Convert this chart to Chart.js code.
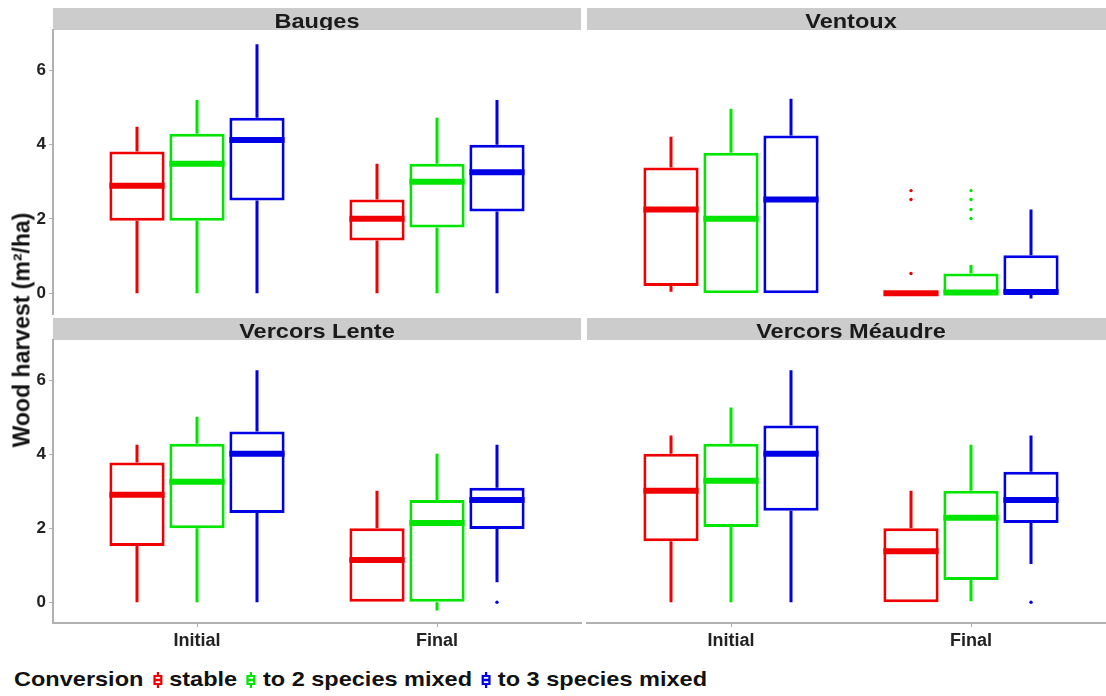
<!DOCTYPE html>
<html>
<head>
<meta charset="utf-8">
<script src="https://cdn.jsdelivr.net/npm/chart.js@4.4.1/dist/chart.umd.min.js"></script>
<style>
  html, body { margin: 0; padding: 0; background: #fff; }
  #page { position: relative; width: 1106px; height: 696px; overflow: hidden; background: #fff;
          font-family: "Liberation Sans", Arial, sans-serif; }
  .panel { position: absolute; }
  #ytitle { position: absolute; left: 22px; top: 330px; transform: translate(-50%, -50%) rotate(-90deg);
            font-weight: bold; font-size: 23px; white-space: nowrap; color: #111; }
  #legend { position: absolute; left: 14px; top: 665px; height: 28px; font-weight: bold; font-size: 21px;
            color: #111; display: flex; align-items: center; white-space: nowrap;
            transform: scaleX(1.12); transform-origin: 0 50%; }
  #legend .key { display: inline-block; margin: 0 6px 0 8px; height: 18px; }
</style>
</head>
<body>
<div id="page">
  <canvas class="panel" id="p0" width="582" height="330" style="left:0;top:0"></canvas>
  <canvas class="panel" id="p1" width="540" height="330" style="left:582px;top:0"></canvas>
  <canvas class="panel" id="p2" width="582" height="340" style="left:0;top:316px"></canvas>
  <canvas class="panel" id="p3" width="540" height="340" style="left:582px;top:316px"></canvas>
  <div id="ytitle">Wood harvest (m²/ha)</div>
  <div id="legend"></div>
</div>
<script>
// ---- data ----
const categories = ['Initial', 'Final'];
const seriesNames = ['stable', 'to 2 species mixed', 'to 3 species mixed'];
const seriesColors = ['#f00000', '#00e600', '#0000e6'];
const sites = ['Bauges', 'Ventoux', 'Vercors Lente', 'Vercors Méaudre'];
const yTicks = [0, 2, 4, 6];
const legendTitle = 'Conversion';

// five-number summaries per period: [lower whisker, Q1, median, Q3, upper whisker]
const baugesStable  = [[0, 1.95, 2.89, 3.81, 4.48], [0, 1.42, 2.00, 2.52, 3.48]];
const baugesMixed2  = [[0, 1.95, 3.48, 4.29, 5.20], [0, 1.77, 3.00, 3.48, 4.72]];
const baugesMixed3  = [[0, 2.49, 4.12, 4.72, 6.70], [0, 2.20, 3.25, 3.99, 5.20]];
const ventouxStable = [[0.04, 0.19, 2.25, 3.38, 4.21], [0, 0, 0, 0, 0]];
const ventouxMixed2 = [[0, 0, 2.00, 3.78, 4.96], [0, 0, 0.02, 0.53, 0.76]];
const ventouxMixed3 = [[0, 0, 2.52, 4.24, 5.23], [-0.14, 0, 0.03, 1.02, 2.25]];
const lenteStable   = [[0, 1.52, 2.90, 3.77, 4.25], [0, 0, 1.14, 2.00, 3.01]];
const lenteMixed2   = [[0, 2.00, 3.25, 4.28, 5.01], [-0.22, 0, 2.14, 2.76, 4.01]];
const lenteMixed3   = [[0, 2.41, 4.01, 4.61, 6.26], [0.54, 1.98, 2.76, 3.09, 4.25]];
const meaudreStable = [[0, 1.65, 3.01, 4.01, 4.50], [0, 0, 1.38, 2.00, 3.01]];
const meaudreMixed2 = [[0, 2.03, 3.28, 4.28, 5.26], [0.03, 0.60, 2.28, 3.01, 4.25]];
const meaudreMixed3 = [[0, 2.47, 4.01, 4.77, 6.26], [1.03, 2.14, 2.76, 3.52, 4.50]];

// outlying values per period
const noOutliers        = [[], []];
const ventouxStableOut  = [[], [0.53, 2.52, 2.76]];
const ventouxMixed2Out  = [[], [2.01, 2.25, 2.52, 2.76]];
const lenteMixed3Out    = [[], [0]];
const meaudreMixed3Out  = [[], [0]];

const siteStats = [
  [baugesStable, baugesMixed2, baugesMixed3],
  [ventouxStable, ventouxMixed2, ventouxMixed3],
  [lenteStable, lenteMixed2, lenteMixed3],
  [meaudreStable, meaudreMixed2, meaudreMixed3]
];
const siteOutliers = [
  [noOutliers, noOutliers, noOutliers],
  [ventouxStableOut, ventouxMixed2Out, noOutliers],
  [noOutliers, noOutliers, lenteMixed3Out],
  [noOutliers, noOutliers, meaudreMixed3Out]
];

const FONT = '"Liberation Sans", Arial, sans-serif';
const AXIS_GREY = '#b0b0b0';

// grey facet strip above each panel
const stripPlugin = {
  id: 'strip',
  beforeDraw(chart, args, opts) {
    const { ctx, chartArea } = chart;
    const h = 22, top = chartArea.top - h;
    ctx.save();
    ctx.fillStyle = '#cccccc';
    ctx.fillRect(chartArea.left, top, chartArea.right - chartArea.left, h);
    ctx.beginPath();
    ctx.rect(chartArea.left, top, chartArea.right - chartArea.left, h);
    ctx.clip();
    ctx.fillStyle = '#1a1a1a';
    ctx.font = 'bold 21px ' + FONT;
    ctx.textAlign = 'center';
    ctx.textBaseline = 'alphabetic';
    ctx.translate((chartArea.left + chartArea.right) / 2, top + 19.5);
    ctx.scale(1.12, 1);
    ctx.fillText(opts.text, 0, 0);
    ctx.restore();
  }
};

// whiskers, medians and outliers on top of the box bars
const boxPlugin = {
  id: 'boxDetails',
  afterDatasetsDraw(chart) {
    const ctx = chart.ctx, ys = chart.scales.y;
    const py = v => ys.getPixelForValue(v);
    chart.data.datasets.forEach((ds, di) => {
      const meta = chart.getDatasetMeta(di);
      ds.stats.forEach((st, i) => {
        const bar = meta.data[i];
        const cx = bar.x, half = bar.width / 2;
        const [lo, q1, med, q3, hi] = st;
        ctx.save();
        ctx.strokeStyle = ds.borderColor;
        ctx.lineCap = 'butt';
        ctx.lineWidth = 3;
        ctx.beginPath();
        if (hi > q3) { ctx.moveTo(cx, py(q3)); ctx.lineTo(cx, py(hi)); }
        if (lo < q1) { ctx.moveTo(cx, py(q1)); ctx.lineTo(cx, py(lo)); }
        ctx.stroke();
        ctx.lineWidth = 6;
        ctx.beginPath();
        ctx.moveTo(cx - half, py(med));
        ctx.lineTo(cx + half, py(med));
        ctx.stroke();
        ctx.fillStyle = ds.borderColor;
        ds.outliers[i].forEach(v => {
          ctx.beginPath();
          ctx.arc(cx, py(v), 1.7, 0, Math.PI * 2);
          ctx.fill();
        });
        ctx.restore();
      });
    });
  }
};

function makePanel(id, siteIndex, showY, showX, padding) {
  const datasets = seriesNames.map((name, k) => ({
    label: name,
    data: categories.map((c, i) => ({ x: i + 1, y: [siteStats[siteIndex][k][i][1], siteStats[siteIndex][k][i][3]] })),
    stats: siteStats[siteIndex][k],
    outliers: siteOutliers[siteIndex][k],
    backgroundColor: '#ffffff',
    borderColor: seriesColors[k],
    borderWidth: 3,
    borderSkipped: false,
    barPercentage: 0.92,
    categoryPercentage: 0.75
  }));
  const xScale = {
    type: 'linear',
    display: showX,
    offset: false,
    min: 0.4, max: 2.6,
    bounds: 'data',
    afterBuildTicks: s => { s.ticks = categories.map((c, i) => ({ value: i + 1 })); },
    ticks: {
      callback: v => categories[v - 1],
      font: { family: FONT, size: 18, weight: 'bold' },
      color: '#222', padding: 3, maxRotation: 0, autoSkip: false
    },
    grid: { offset: false, color: 'transparent', drawOnChartArea: false, drawTicks: true, tickLength: 4, tickColor: AXIS_GREY, tickWidth: 1 },
    border: { display: true, color: AXIS_GREY, width: 2 }
  };
  if (showX) xScale.afterFit = s => { s.height = 33; };
  const yScale = {
    type: 'linear',
    display: showY,
    min: -0.56, max: 7.08,
    bounds: 'data',
    afterBuildTicks: s => { s.ticks = yTicks.map(v => ({ value: v })); },
    ticks: {
      font: { family: FONT, size: 17, weight: 'bold' },
      color: '#222', padding: 3
    },
    grid: { color: 'transparent', drawOnChartArea: false, drawTicks: true, tickLength: 4, tickColor: AXIS_GREY, tickWidth: 1 },
    border: { display: true, color: AXIS_GREY, width: 2 }
  };
  if (showY) yScale.afterFit = s => { s.width = 53; };
  return new Chart(document.getElementById(id), {
    type: 'bar',
    data: { datasets },
    options: {
      responsive: false,
      animation: false,
      devicePixelRatio: 1,
      layout: { padding },
      plugins: {
        legend: { display: false },
        tooltip: { enabled: false },
        strip: { text: sites[siteIndex] }
      },
      scales: { x: xScale, y: yScale }
    },
    plugins: [stripPlugin, boxPlugin]
  });
}

// top row canvases reach below the panel so the lowest tick label has room
makePanel('p0', 0, true, false, { top: 30, right: 1, bottom: 16, left: 0 });
makePanel('p1', 1, false, false, { top: 30, right: 7, bottom: 16, left: 5 });
makePanel('p2', 2, true, true, { top: 24, right: 1, bottom: 0, left: 0 });
makePanel('p3', 3, false, true, { top: 24, right: 7, bottom: 0, left: 5 });

// legend: title followed by a small box glyph per series
const legend = document.getElementById('legend');
const title = document.createElement('span');
title.textContent = legendTitle;
legend.appendChild(title);
seriesNames.forEach((name, k) => {
  const c = seriesColors[k];
  const key = document.createElement('span');
  key.className = 'key';
  key.innerHTML = '<svg width="9" height="18" viewBox="0 0 9 18">' +
    '<line x1="4.5" y1="1" x2="4.5" y2="17" stroke="' + c + '" stroke-width="2"/>' +
    '<rect x="1.5" y="5" width="6" height="8" fill="#fff" stroke="' + c + '" stroke-width="2"/>' +
    '<line x1="1" y1="9" x2="8" y2="9" stroke="' + c + '" stroke-width="2.5"/></svg>';
  legend.appendChild(key);
  const lbl = document.createElement('span');
  lbl.textContent = name;
  legend.appendChild(lbl);
});
</script>
</body>
</html>
